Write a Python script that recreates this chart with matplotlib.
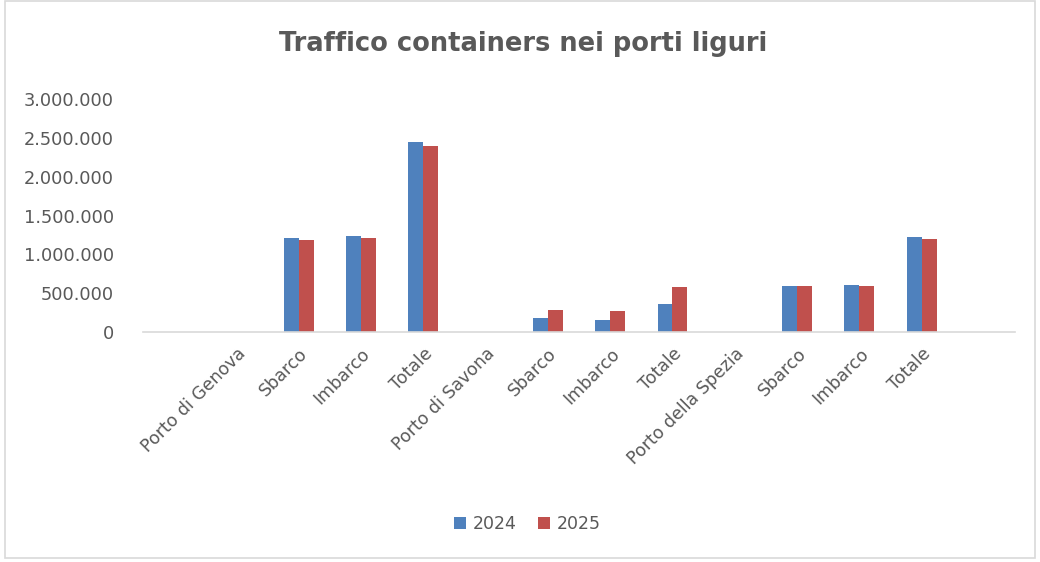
"""Traffico containers nei porti liguri - grouped bar chart."""

import numpy as np
import matplotlib.pyplot as plt
from matplotlib.patches import Rectangle
from matplotlib.ticker import FuncFormatter, MultipleLocator
from matplotlib.transforms import ScaledTranslation

categories = [
    "Porto di Genova", "Sbarco", "Imbarco", "Totale",
    "Porto di Savona", "Sbarco", "Imbarco", "Totale",
    "Porto della Spezia", "Sbarco", "Imbarco", "Totale",
]
values_2024 = [0, 1214000, 1232000, 2446000,
               0, 180000, 162000, 362000,
               0, 592000, 609000, 1223000]
values_2025 = [0, 1184000, 1214000, 2398000,
               0, 290000, 274000, 584000,
               0, 592000, 592000, 1200000]
series_labels = ["2024", "2025"]

text_color = "#595959"
plt.rcParams["font.family"] = ["DejaVu Sans"]

fig = plt.figure(figsize=(10.4, 5.62), dpi=100)
ax = fig.add_axes([0.1375, 0.409, 0.8385, 0.415])

x = np.arange(len(categories))
width = 0.24
ax.bar(x - width / 2, values_2024, width, color="#4F81BD", label=series_labels[0])
ax.bar(x + width / 2, values_2025, width, color="#C0504D", label=series_labels[1])

ax.set_xlim(-1.5, len(categories) + 0.5)
ax.set_ylim(0, 3000000)
ax.yaxis.set_major_locator(MultipleLocator(500000))
ax.yaxis.set_major_formatter(FuncFormatter(lambda v, _: f"{int(v):,}".replace(",", ".")))

ax.set_xticks(x)
ax.set_xticklabels(categories, rotation=45, ha="right", va="top", rotation_mode="anchor")
# nudge the rotated labels so their right end sits on the category centre
shift = ScaledTranslation(-5 / 72, 0, fig.dpi_scale_trans)
for label in ax.get_xticklabels():
    label.set_transform(label.get_transform() + shift)

for side in ["top", "right", "left"]:
    ax.spines[side].set_visible(False)
ax.spines["bottom"].set_color("#D9D9D9")
ax.spines["bottom"].set_linewidth(1.2)
ax.tick_params(axis="y", length=0, pad=21, labelsize=12.8, labelcolor=text_color)
ax.tick_params(axis="x", length=0, pad=9, labelsize=12.5, labelcolor=text_color)

fig.suptitle("Traffico containers nei porti liguri", x=0.503, y=0.945,
             fontsize=18.5, fontweight="bold", color=text_color)

fig.legend(loc="center", bbox_to_anchor=(0.507, 0.068), ncol=2, frameon=False,
           fontsize=12.5, labelcolor=text_color, handlelength=0.7, handleheight=0.7,
           columnspacing=1.2, handletextpad=0.4)

fig.patches.append(Rectangle((0.005, 0.008), 0.99, 0.99, transform=fig.transFigure,
                             fill=False, edgecolor="#D9D9D9", linewidth=1.2))

fig.savefig("out.png", dpi=100)
